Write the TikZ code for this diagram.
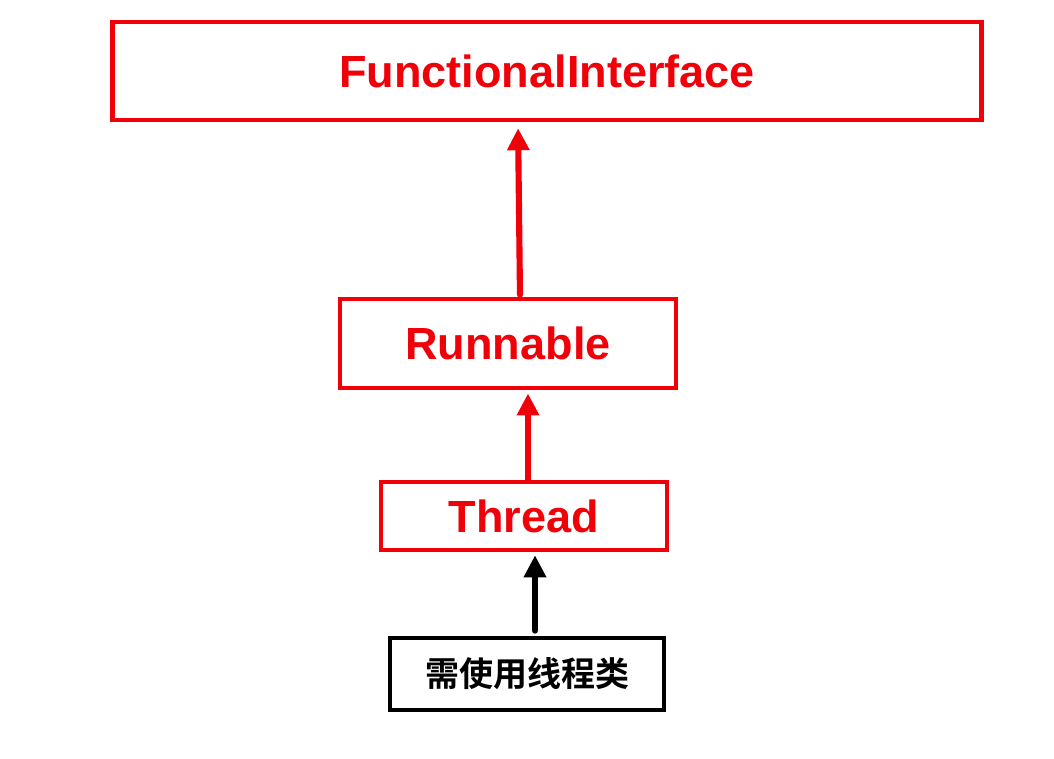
\documentclass[tikz,border=0pt]{standalone}
\usepackage{fontspec}
\setmainfont{Liberation Sans}
\newfontfamily\cjk{Noto Sans CJK SC}[BoldFont={Noto Sans CJK SC Bold}]
\usetikzlibrary{arrows.meta}
\definecolor{boxred}{RGB}{240,0,8}
\tikzset{
  redbox/.style={draw=boxred, line width=3.4pt, rectangle, text=boxred, font=\fontsize{33.8}{34}\selectfont\bfseries, inner sep=0pt},
  blackbox/.style={draw=black, line width=3.6pt, rectangle, text=black, font=\fontsize{25.5}{26}\selectfont\cjk\bfseries, inner sep=0pt},
  conn/.style={line width=4.6pt, line cap=round, -{Triangle[length=16.5pt,width=16pt]}},
  redarrow/.style={conn, draw=boxred},
  blackarrow/.style={conn, draw=black}
}
\begin{document}
\begin{tikzpicture}[x=0.75pt,y=-0.75pt]
\useasboundingbox (0,0) rectangle (1054,758);
\node[redbox, minimum width=652pt, minimum height=73.5pt] (fi) at (547,71) {FunctionalInterface};
\node[redbox, minimum width=252pt, minimum height=67pt] (run) at (508,343.5) {Runnable};
\node[redbox, minimum width=214.5pt, minimum height=51pt] (thr) at (524,516) {Thread};
\node[blackbox, minimum width=205.5pt, minimum height=54pt] (use) at (527,674) {需使用线程类};
\draw[redarrow, shorten <=1.5pt, shorten >=4.5pt] ([xshift=9pt]run.north) -- ([xshift=-21.75pt]fi.south);
\draw[redarrow, shorten <=0pt, shorten >=2.25pt] ([xshift=3pt]thr.north) -- ([xshift=15pt]run.south);
\draw[blackarrow, shorten <=3.75pt, shorten >=2.25pt] ([xshift=6pt]use.north) -- ([xshift=8.25pt]thr.south);
\end{tikzpicture}
\end{document}
